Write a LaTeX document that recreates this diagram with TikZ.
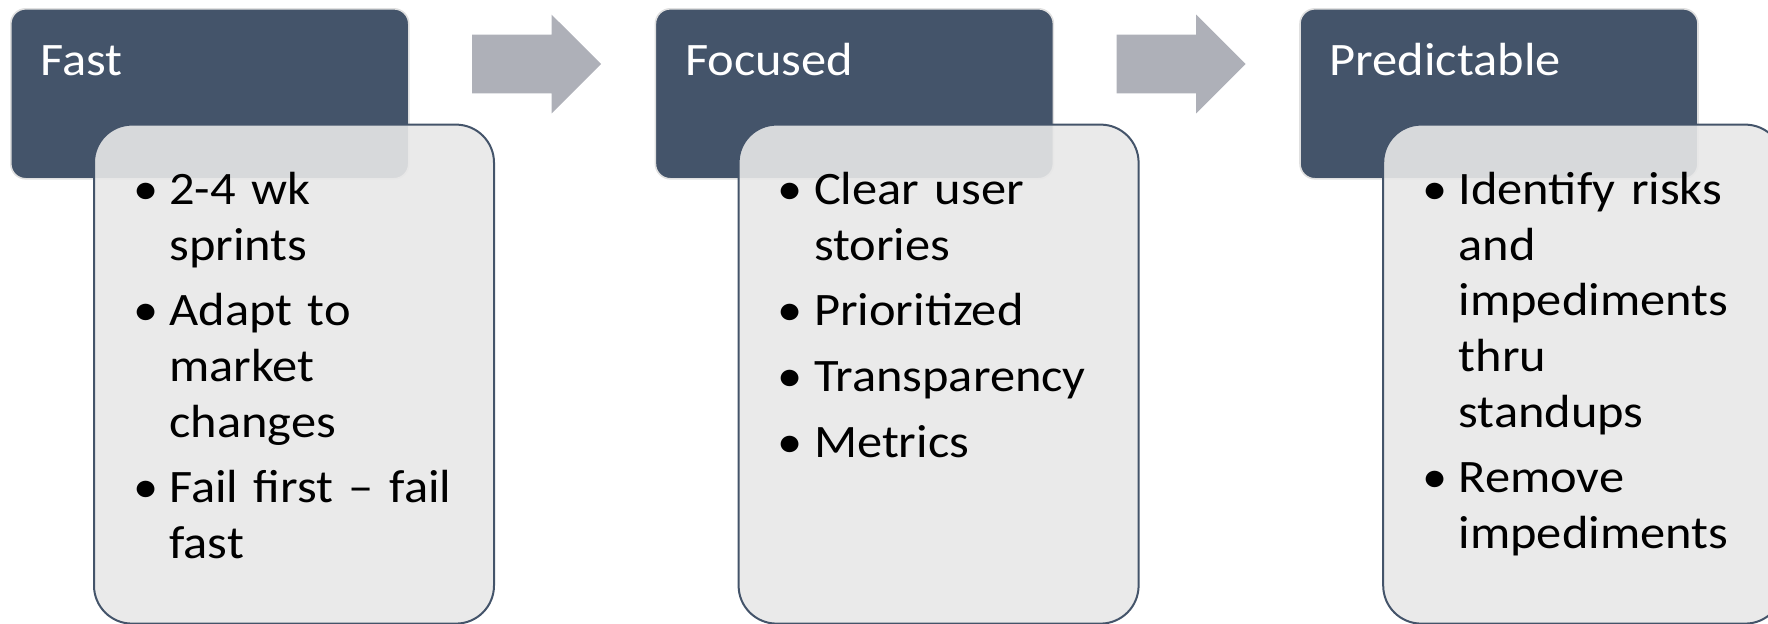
\documentclass[tikz,border=0pt]{standalone}
\usepackage{fontspec}
\setmainfont{Carlito}[FakeStretch=1.085]
\usepackage{tikz}
\usepackage{xcolor}
\usetikzlibrary{positioning,shapes.arrows}

\definecolor{slate}{HTML}{44546A}
\definecolor{panel}{HTML}{E8E8E8}
\definecolor{arrowgray}{HTML}{AEB0B8}
\newcommand{\bul}{\leavevmode\llap{\textbullet\hspace{5.5pt}}}

\begin{document}
\begin{tikzpicture}[
  node distance=0pt and 122.5pt,
  head/.style={draw=black!12, line width=0.8pt, fill=slate, rounded corners=7.5pt, minimum width=199pt, minimum height=85pt, inner sep=0pt},
  detail/.style={draw=slate, line width=1pt, fill=panel, fill opacity=0.9, rounded corners=19pt, minimum width=200pt, minimum height=249.5pt, inner sep=0pt},
  headtext/.style={text=white, inner sep=0pt, font=\fontsize{23.25pt}{27.8pt}\selectfont},
  listtext/.style={text=black, inner sep=0pt, align=left, text width=170pt, font=\fontsize{23.25pt}{27.8pt}\selectfont},
  flowarrow/.style={single arrow, fill=arrowgray, draw=none, inner sep=0pt, text height=29pt, text depth=0pt, minimum width=49pt, minimum height=64.5pt, single arrow tip angle=90, single arrow head extend=10pt}
]
\useasboundingbox (0,0) rectangle (884pt,-311.5pt);
\clip (0,0) rectangle (884pt,-311.5pt);
% header boxes
\node[head, anchor=north west] (fast) at (5pt,-4pt) {};
\node[head, right=of fast] (focused) {};
\node[head, right=of focused] (predict) {};
% block arrows between the steps
\node[flowarrow, anchor=west] (ar1) at ([xshift=31pt,yshift=-28pt]fast.north east) {};
\node[flowarrow, anchor=west] (ar2) at ([xshift=31pt,yshift=-28pt]focused.north east) {};
% titles
\node[headtext, anchor=base west] (fast-t) at ([xshift=15pt,yshift=-33.5pt]fast.north west) {Fast};
\node[headtext, anchor=base west] (focused-t) at ([xshift=15pt,yshift=-33.5pt]focused.north west) {Focused};
\node[headtext, anchor=base west] (predict-t) at ([xshift=15pt,yshift=-33.5pt]predict.north west) {Predictable};
% detail panels
\node[detail, anchor=north west] (fast-d) at ([xshift=41.5pt,yshift=28pt]fast.south west) {};
\node[detail, anchor=north west] (focused-d) at ([xshift=41.5pt,yshift=28pt]focused.south west) {};
\node[detail, anchor=north west] (predict-d) at ([xshift=41.5pt,yshift=28pt]predict.south west) {};
% bullet lists
\node[listtext, anchor=base west] (fast-l) at ([xshift=38pt,yshift=-40.5pt]fast-d.north west)
  {\bul 2-4 wk\\ sprints\\[5pt] \bul Adapt to\\ market\\ changes\\[5pt] \bul Fail first -- fail\\ fast};
\node[listtext, anchor=base west] (focused-l) at ([xshift=38pt,yshift=-40.5pt]focused-d.north west)
  {\bul Clear user\\ stories\\[5pt] \bul Prioritized\\[5pt] \bul Transparency\\[5pt] \bul Metrics};
\node[listtext, anchor=base west] (predict-l) at ([xshift=38pt,yshift=-40.5pt]predict-d.north west)
  {\bul Identify risks\\ and\\ impediments\\ thru\\ standups\\[5pt] \bul Remove\\ impediments};
\end{tikzpicture}
\end{document}
